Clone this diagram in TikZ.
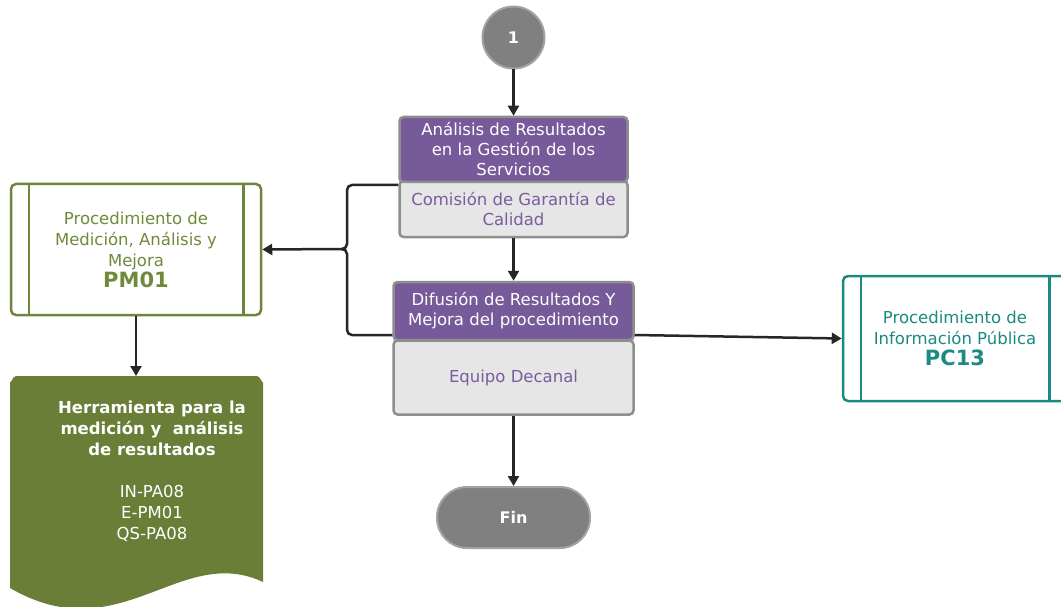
\documentclass[tikz,border=0pt]{standalone}
\usepackage{fontspec}
\setmainfont{DejaVu Sans}
\usetikzlibrary{arrows.meta}
\definecolor{purp}{HTML}{775A99}
\definecolor{purptext}{HTML}{7A5C9F}
\definecolor{lgray}{HTML}{E6E6E6}
\definecolor{bgray}{HTML}{8E8E8E}
\definecolor{dgray}{HTML}{808080}
\definecolor{cgray}{HTML}{A3A3A3}
\definecolor{grn}{HTML}{6E863A}
\definecolor{grntext}{HTML}{6F8A3A}
\definecolor{docgrn}{HTML}{6A7E38}
\definecolor{teal}{HTML}{1A8A82}
\definecolor{arrowc}{HTML}{262626}
\begin{document}
\begin{tikzpicture}[x=1pt,y=-1pt,
  every node/.style={inner sep=0pt, align=center, font=\fontsize{16.5}{20}\selectfont},
  pbox/.style={rectangle, rounded corners=4pt, fill=purp, draw=bgray, line width=2.5pt, text=white},
  gbox/.style={rectangle, rounded corners=4pt, fill=lgray, draw=bgray, line width=2.5pt, text=purptext},
  circ/.style={circle, fill=dgray, draw=cgray, line width=2pt, minimum size=62pt, text=white},
  finsh/.style={rectangle, rounded corners=30pt, fill=dgray, draw=cgray, line width=2pt, minimum width=153pt, minimum height=61pt, text=white},
  procbox/.style={rectangle, rounded corners=5pt, fill=white, line width=2.5pt, font=\fontsize{16.5}{21}\selectfont},
  arr/.style={draw=arrowc, line width=2.5pt, -{Triangle[length=10pt,width=11pt]}},
  conn/.style={draw=arrowc, line width=2.5pt}
]
\useasboundingbox (0,0) rectangle (1061,607);

% start circle
\node[circ] (start) at (513.5,37.5) {\fontsize{16}{18}\selectfont\bfseries 1};

% box 1
\node[gbox, minimum width=228pt, minimum height=56pt] (b1g) at (513.5,209) {Comisión de Garantía de\\Calidad};
\node[pbox, minimum width=228pt, minimum height=65pt] (b1p) at (513.5,149.5) {Análisis de Resultados\\en la Gestión de los\\Servicios};

% box 2
\node[gbox, minimum width=240pt, minimum height=74pt] (b2g) at (513.5,377.5) {Equipo Decanal};
\node[pbox, minimum width=240pt, minimum height=58pt] (b2p) at (513.5,311) {Difusión de Resultados Y\\Mejora del procedimiento};

% fin
\node[finsh] (fin) at (513.5,517.5) {\fontsize{16}{18}\selectfont\bfseries Fin};

% PM01
\node[procbox, draw=grn, text=grntext, minimum width=250pt, minimum height=131pt] (pm) at (136,249.5) {Procedimiento de\\Medición, Análisis y\\Mejora\\{\fontsize{21}{23}\selectfont\bfseries PM01}};
\draw[draw=grn, line width=2.5pt] ([xshift=19pt]pm.north west) -- ([xshift=19pt]pm.south west);
\draw[draw=grn, line width=2.5pt] ([xshift=-19pt]pm.north east) -- ([xshift=-19pt]pm.south east);

% PC13
\node[procbox, draw=teal, text=teal, minimum width=224pt, minimum height=125pt] (pc) at (955,338.5) {Procedimiento de\\Información Pública\\{\fontsize{21}{22}\selectfont\bfseries PC13}};
\draw[draw=teal, line width=2.5pt] ([xshift=19pt]pc.north west) -- ([xshift=19pt]pc.south west);
\draw[draw=teal, line width=2.5pt] ([xshift=-19pt]pc.north east) -- ([xshift=-19pt]pc.south east);

% document shape
\fill[docgrn] (10,584) -- (10,382) to[out=-90,in=180] (16,376) -- (257,376) to[out=0,in=-90] (263,382) -- (263,582)
  .. controls (180,543) and (120,652) .. (10,588) -- cycle;
\coordinate (doctop) at (136,376);
\node[text=white, font=\fontsize{16.5}{21}\selectfont] (doc) at (152,471) {{\bfseries Herramienta para la}\\{\bfseries medición y\ \ análisis}\\{\bfseries de resultados}\\[21pt]IN-PA08\\E-PM01\\QS-PA08};

% connectors
\draw[arr] (start.south) -- (b1p.north);
\draw[arr] (b1g.south) -- (b2p.north);
\draw[arr] (b2g.south) -- (fin.north);
\draw[arr] (pm.south) -- (doctop);
\coordinate (jn) at (347,249);
\draw[conn, rounded corners=5pt] (b1p.west |- 0,185) -| (jn) -- (341,249);
\draw[conn, rounded corners=5pt] (b2p.west |- 0,335) -| (jn) -- (341,249);
\draw[arr] (341,249) -- (pm.east);
\draw[arr] (b2p.east |- 0,335) -- (pc.west);
\end{tikzpicture}
\end{document}
